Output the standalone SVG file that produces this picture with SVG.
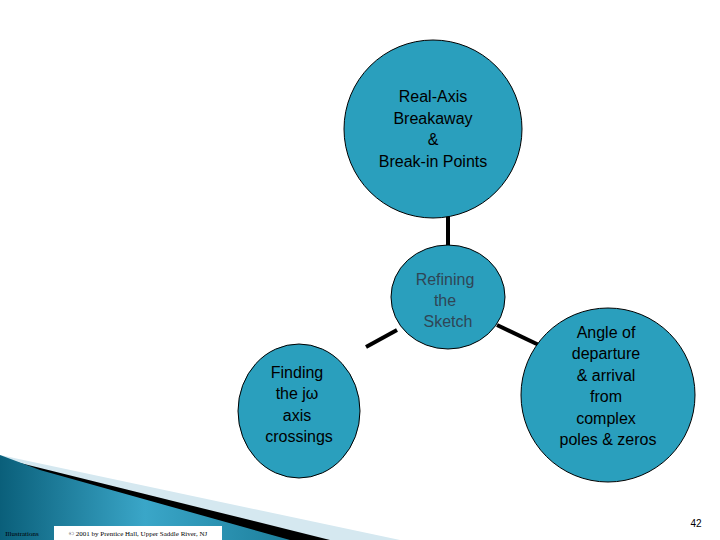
<svg xmlns="http://www.w3.org/2000/svg" width="720" height="540" viewBox="0 0 720 540">
<style>
.n{fill:#2a9fbd;stroke:#000;stroke-width:1}
.t{font-family:"Liberation Sans",Arial,sans-serif;font-size:16px;text-anchor:middle;fill:#000}
.m{fill:#2f4656}
.c{stroke:#000;stroke-width:4}
</style>
<defs>
<linearGradient id="g" x1="0" y1="0" x2="1" y2="0"><stop offset="0" stop-color="#0a5f7a"/><stop offset="0.5" stop-color="#3aa6c8"/><stop offset="1" stop-color="#1d7f9c"/></linearGradient>
</defs>
<rect width="720" height="540" fill="#fff"/>
<g id="footer">
<polygon points="0,455 400,540 0,540" fill="#d5e8f0"/>
<polygon points="0,458 330,540 0,540" fill="#000"/>
<polygon points="0,455 40,470 290,540 0,540" fill="url(#g)"/>
<rect x="54" y="526" width="168" height="14" fill="#fff"/>
<text x="138" y="536" font-family="Liberation Serif,serif" font-size="7" text-anchor="middle" fill="#000">© 2001 by Prentice Hall, Upper Saddle River, NJ</text>
<text x="22" y="536" font-family="Liberation Serif,serif" font-size="7" text-anchor="middle" fill="#000">Illustrations</text>
<text x="696" y="527" font-family="Liberation Sans,sans-serif" font-size="10" text-anchor="middle" fill="#000">42</text>
</g>
<g id="connectors">
<line class="c" x1="448" y1="214" x2="448" y2="247"/>
<line class="c" x1="366" y1="347" x2="397" y2="330"/>
<line class="c" x1="497" y1="325" x2="541" y2="346"/>
</g>
<g id="top"><circle class="n" cx="433" cy="129" r="89"/>
<text class="t" x="433" y="102">Real-Axis</text><text class="t" x="433" y="124">Breakaway</text><text class="t" x="433" y="145">&amp;</text><text class="t" x="433" y="167">Break-in Points</text></g>
<g id="center"><ellipse class="n" cx="448" cy="297" rx="57" ry="52"/>
<text class="t m" x="445" y="285">Refining</text><text class="t m" x="445" y="306">the</text><text class="t m" x="448" y="327">Sketch</text></g>
<g id="left"><ellipse class="n" cx="299" cy="411" rx="61" ry="67"/>
<text class="t" x="297" y="378">Finding</text><text class="t" x="297" y="399">the jω</text><text class="t" x="297" y="421">axis</text><text class="t" x="299" y="442">crossings</text></g>
<g id="right"><circle class="n" cx="608" cy="395" r="87"/>
<text class="t" x="606" y="338">Angle of</text><text class="t" x="606" y="359">departure</text><text class="t" x="606" y="381">&amp; arrival</text><text class="t" x="606" y="402">from</text><text class="t" x="606" y="424">complex</text><text class="t" x="608" y="445">poles &amp; zeros</text></g>
</svg>
